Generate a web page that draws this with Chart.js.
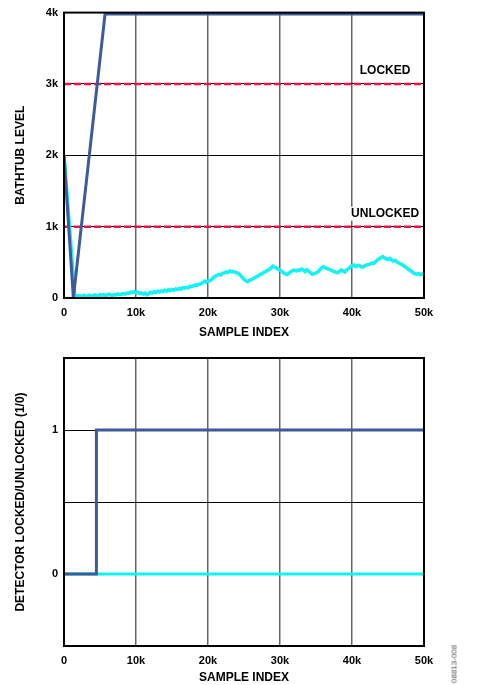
<!DOCTYPE html>
<html>
<head>
<meta charset="utf-8">
<script src="https://cdn.jsdelivr.net/npm/chart.js@4.4.1/dist/chart.umd.min.js"></script>
<style>
  html, body { margin: 0; padding: 0; background: #fff; }
  body { width: 502px; height: 685px; position: relative; overflow: hidden; }
  .box { position: absolute; left: 0; width: 502px; }
  #topBox { top: 0; height: 340px; }
  #bottomBox { top: 340px; height: 345px; }
  #figId {
    position: absolute; left: 454px; top: 664px;
    transform: translate(-50%, -50%) rotate(-90deg);
    font: 8px "Liberation Sans", Arial, sans-serif; color: #555; white-space: nowrap;
  }
</style>
</head>
<body>
<div class="box" id="topBox"><canvas id="bathtub-chart"></canvas></div>
<div class="box" id="bottomBox"><canvas id="detector-chart"></canvas></div>
<div id="figId">08813-008</div>
<script>
// bathtub level, dark blue trace
var blueIndex = [0, 1300, 5700, 50000];
var blueLevel = [2000, 0, 3980, 3980];

// bathtub level, cyan trace (noisy)
var cyanIndex = [0,
  1500, 1750, 2000, 2250, 2500, 2750, 3000, 3250, 3500, 3750, 4000, 4250, 4500, 4750,
  5000, 5250, 5500, 5750, 6000, 6250, 6500, 6750, 7000, 7250, 7500, 7750, 8000, 8250, 8500, 8750,
  9000, 9250, 9500, 9750, 10000, 10250, 10500, 10750, 11000, 11250, 11500, 11750, 12000, 12250, 12500, 12750,
  13000, 13250, 13500, 13750, 14000, 14250, 14500, 14750, 15000, 15250, 15500, 15750, 16000, 16250, 16500, 16750,
  17000, 17250, 17500, 17750, 18000, 18250, 18500, 18750, 19000, 19250, 19500, 19750, 20000, 20250, 20500, 20750,
  21000, 21250, 21500, 21750, 22000, 22250, 22500, 22750, 23000, 23250, 23500, 23750, 24000, 24250, 24500, 24750,
  25000, 25250, 25500, 25750, 26000, 26250, 26500, 26750, 27000, 27250, 27500, 27750, 28000, 28250, 28500, 28750,
  29000, 29250, 29500, 29750, 30000, 30250, 30500, 30750, 31000, 31250, 31500, 31750, 32000, 32250, 32500, 32750,
  33000, 33250, 33500, 33750, 34000, 34250, 34500, 34750, 35000, 35250, 35500, 35750, 36000, 36250, 36500, 36750,
  37000, 37250, 37500, 37750, 38000, 38250, 38500, 38750, 39000, 39250, 39500, 39750, 40000, 40250, 40500, 40750,
  41000, 41250, 41500, 41750, 42000, 42250, 42500, 42750, 43000, 43250, 43500, 43750, 44000, 44250, 44500, 44750,
  45000, 45250, 45500, 45750, 46000, 46250, 46500, 46750, 47000, 47250, 47500, 47750, 48000, 48250, 48500, 48750,
  49000, 49250, 49500, 49750, 50000];
var cyanLevel = [2000,
  30, 22, 35, 28, 20, 38, 30, 25, 40, 32, 26, 42, 35, 30,
  45, 36, 48, 34, 42, 55, 40, 36, 50, 44, 58, 46, 52, 62, 55, 70,
  64, 82, 76, 90, 72, 80, 62, 70, 55, 68, 45, 58, 80, 70, 88, 78,
  95, 84, 100, 92, 108, 96, 115, 104, 120, 110, 128, 118, 135, 124, 145, 138,
  150, 142, 165, 158, 172, 180, 176, 195, 200, 215, 235, 222, 245, 240, 262, 285,
  305, 318, 330, 322, 345, 352, 365, 358, 378, 368, 372, 360, 355, 340, 318, 290,
  262, 240, 228, 248, 256, 270, 285, 300, 312, 330, 338, 360, 368, 385, 400, 420,
  445, 432, 420, 405, 388, 372, 350, 338, 330, 348, 370, 385, 392, 378, 395, 388,
  405, 392, 370, 395, 375, 350, 332, 340, 352, 365, 395, 420, 440, 425, 415, 400,
  395, 380, 372, 360, 352, 372, 392, 380, 365, 390, 410, 435, 455, 462, 440, 452,
  458, 440, 432, 448, 462, 470, 475, 490, 485, 505, 530, 548, 565, 580, 562, 548,
  540, 555, 532, 518, 528, 505, 490, 478, 465, 448, 430, 410, 392, 375, 352, 340,
  335, 342, 325, 338, 330];

var lockedThreshold = 3000;
var unlockedThreshold = 1000;
var thresholdLabels = ['LOCKED', 'UNLOCKED'];
var labelIndex = 44600;

// detector output
var detectorIndex = [0, 4500, 50000];
var detectorBlue = [0, 1, 1];
var detectorCyanIndex = [0, 50000];
var detectorCyan = [0, 0];

var sampleTicks = [0, 10000, 20000, 30000, 40000, 50000];
var levelTicks = [0, 1000, 2000, 3000, 4000];
var detectorTicks = [-0.5, 0, 0.5, 1, 1.5];
var detectorTickLabels = { '0': '0', '1': '1' };

var BLUE = '#3d5b9b';
var CYAN = '#14f2f2';
var RED = '#e8174a';
var FONT = '"Liberation Sans", Arial, sans-serif';

function pts(xs, ys) {
  return xs.map(function (x, i) { return { x: x, y: ys[i] }; });
}

function kLabel(v) {
  return v === 0 ? '0' : (v / 1000) + 'k';
}

function fixedTicks(list) {
  return function (s) { s.ticks = list.map(function (v) { return { value: v }; }); };
}

var frame = {
  id: 'frame',
  afterDraw: function (chart) {
    var a = chart.chartArea, ctx = chart.ctx;
    ctx.save();
    ctx.strokeStyle = '#000';
    ctx.lineWidth = 2;
    ctx.strokeRect(a.left, a.top, a.right - a.left, a.bottom - a.top);
    ctx.restore();
  }
};

var thresholdText = {
  id: 'thresholdText',
  afterDatasetsDraw: function (chart) {
    var ctx = chart.ctx, xs = chart.scales.x, ys = chart.scales.y;
    var levels = [lockedThreshold, unlockedThreshold];
    ctx.save();
    ctx.font = 'bold 12px ' + FONT;
    ctx.textAlign = 'center';
    ctx.textBaseline = 'middle';
    levels.forEach(function (lv, i) {
      var x = xs.getPixelForValue(labelIndex);
      var y = ys.getPixelForValue(lv) - 13;
      var w = ctx.measureText(thresholdLabels[i]).width;
      ctx.fillStyle = '#fff';
      ctx.fillRect(x - w / 2 - 1, y - 7, w + 2, 14);
      ctx.fillStyle = '#000';
      ctx.fillText(thresholdLabels[i], x, y);
    });
    ctx.restore();
  }
};

function xAxis(height) {
  return {
    type: 'linear', min: 0, max: 50000,
    afterBuildTicks: fixedTicks(sampleTicks),
    afterFit: function (s) { s.height = height; },
    grid: { color: '#666', lineWidth: 1.5, drawTicks: false },
    border: { display: false },
    ticks: { color: '#000', padding: 8, maxRotation: 0, font: { family: FONT, size: 11, weight: 'bold' }, callback: kLabel },
    title: { display: true, text: 'SAMPLE INDEX', color: '#000', padding: { top: 0, bottom: 0 }, font: { family: FONT, size: 12, weight: 'bold' } }
  };
}

function threshold(level) {
  return { data: pts([0, 50000], [level, level]), borderColor: RED, borderWidth: 2.5, borderDash: [7, 3], pointRadius: 0 };
}

new Chart(document.getElementById('bathtub-chart'), {
  type: 'line',
  data: {
    datasets: [
      { data: pts(blueIndex, blueLevel), borderColor: BLUE, borderWidth: 3, pointRadius: 0 },
      { data: pts(cyanIndex, cyanLevel), borderColor: CYAN, borderWidth: 3.5, pointRadius: 0 },
      threshold(lockedThreshold),
      threshold(unlockedThreshold)
    ]
  },
  options: {
    responsive: true, maintainAspectRatio: false, animation: false,
    layout: { padding: { top: 12, right: 78, left: 0, bottom: 0 } },
    plugins: { legend: { display: false }, tooltip: { enabled: false } },
    scales: {
      x: xAxis(42),
      y: {
        type: 'linear', min: 0, max: 4000,
        afterBuildTicks: fixedTicks(levelTicks),
        afterFit: function (s) { s.width = 64; },
        grid: { color: '#000', lineWidth: 1, drawTicks: false },
        border: { display: false },
        ticks: { color: '#000', padding: 6, font: { family: FONT, size: 11, weight: 'bold' }, callback: kLabel },
        title: { display: true, text: 'BATHTUB LEVEL', color: '#000', padding: { top: 13, bottom: 0 }, font: { family: FONT, size: 12, weight: 'bold' } }
      }
    }
  },
  plugins: [thresholdText, frame]
});

new Chart(document.getElementById('detector-chart'), {
  type: 'line',
  data: {
    datasets: [
      { data: pts(detectorIndex, detectorBlue), borderColor: BLUE, borderWidth: 3, pointRadius: 0, stepped: true },
      { data: pts(detectorCyanIndex, detectorCyan), borderColor: CYAN, borderWidth: 3, pointRadius: 0 }
    ]
  },
  options: {
    responsive: true, maintainAspectRatio: false, animation: false,
    layout: { padding: { top: 18, right: 78, left: 0, bottom: 0 } },
    plugins: { legend: { display: false }, tooltip: { enabled: false } },
    scales: {
      x: xAxis(39),
      y: {
        type: 'linear', min: -0.5, max: 1.5,
        afterBuildTicks: fixedTicks(detectorTicks),
        afterFit: function (s) { s.width = 64; },
        grid: { color: '#000', lineWidth: 1, drawTicks: false },
        border: { display: false },
        ticks: { color: '#000', padding: 6, font: { family: FONT, size: 11, weight: 'bold' },
          callback: function (v) { return detectorTickLabels[String(v)] || ''; } },
        title: { display: true, text: 'DETECTOR LOCKED/UNLOCKED (1/0)', color: '#000', padding: { top: 13, bottom: 0 }, font: { family: FONT, size: 12, weight: 'bold' } }
      }
    }
  },
  plugins: [frame]
});
</script>
</body>
</html>
